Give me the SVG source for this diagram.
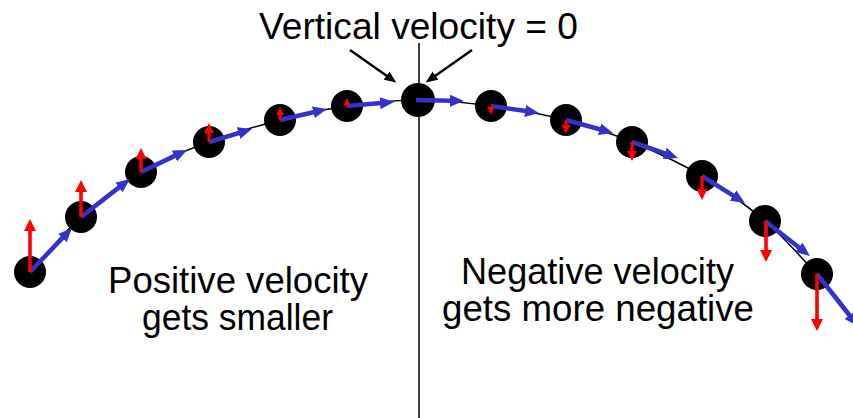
<svg xmlns="http://www.w3.org/2000/svg" width="853" height="418" viewBox="0 0 853 418">
<style>
.txt{font-family:"Liberation Sans",Arial,sans-serif;font-size:36px;fill:#000}
.ball{fill:#000}
.blue{stroke:#3333CC;stroke-width:4.5;fill:none;marker-end:url(#bh)}
.red{fill:#FF0000}
.call{stroke:#000;stroke-width:2.5;fill:none;marker-end:url(#kh)}
</style>
<defs>
<marker id="bh" markerUnits="userSpaceOnUse" markerWidth="15" markerHeight="13" refX="1" refY="6" orient="auto" viewBox="0 0 15 12">
<path d="M0,0 L14,6 L0,12 Z" fill="#3333CC"/>
</marker>
<marker id="kh" markerUnits="userSpaceOnUse" markerWidth="13" markerHeight="11" refX="1" refY="5" orient="auto" viewBox="0 0 13 10">
<path d="M0,0 L12,5 L0,10 Z" fill="#000"/>
</marker>
</defs>
<rect width="853" height="418" fill="#fff"/>
<line id="axis" x1="419" y1="43" x2="419" y2="418" stroke="#000" stroke-width="1.5"/>
<path id="trajectory" d="M30,272 C47,253.7 62.5,233.7 81,217 C99.5,200.3 119.7,184.5 141,172 C162.3,159.5 185.8,150.7 209,142 C232.2,133.3 257,126 280,120 C303,114 324,109.3 347,106 C370,102.7 394,100 418,100 C442,100 466.3,102.7 491,106 C515.7,109.3 542.5,114 566,120 C589.5,126 609.3,132.7 632,142 C654.7,151.3 679.8,162.8 702,176 C724.2,189.2 745.8,204.7 765,221 C784.2,237.3 799.7,256.3 817,274 C830,288 842,303 853,318" fill="none" stroke="#000" stroke-width="1.5"/>
<g id="balls">
<g id="b1"><circle class="ball" cx="30" cy="272" r="16"/></g>
<g id="b2"><circle class="ball" cx="81" cy="217" r="16"/></g>
<g id="b3"><circle class="ball" cx="141" cy="172" r="16"/></g>
<g id="b4"><circle class="ball" cx="209" cy="142" r="16"/></g>
<g id="b5"><circle class="ball" cx="280" cy="120" r="16"/></g>
<g id="b6"><circle class="ball" cx="347" cy="106" r="16"/></g>
<g id="b7"><circle class="ball" cx="418" cy="100" r="17"/></g>
<g id="b8"><circle class="ball" cx="491" cy="106" r="16"/></g>
<g id="b9"><circle class="ball" cx="566" cy="120" r="16"/></g>
<g id="b10"><circle class="ball" cx="632" cy="142" r="16"/></g>
<g id="b11"><circle class="ball" cx="702" cy="176" r="16"/></g>
<g id="b12"><circle class="ball" cx="765" cy="221" r="16"/></g>
<g id="b13"><circle class="ball" cx="817" cy="274" r="16"/></g>
</g>
<g id="connectors">
<line class="blue" x1="30" y1="272" x2="63" y2="237.4"/>
<line class="blue" x1="81" y1="217" x2="119.7" y2="186.9"/>
<line class="blue" x1="141" y1="172" x2="175.3" y2="155.6"/>
<line class="blue" x1="209" y1="142" x2="239.5" y2="132.8"/>
<line class="blue" x1="280" y1="120" x2="314.3" y2="112"/>
<line class="blue" x1="347" y1="106" x2="381" y2="103.1"/>
<line class="blue" x1="416" y1="100" x2="451" y2="100.7"/>
<line class="blue" x1="491" y1="106" x2="526.1" y2="111.1"/>
<line class="blue" x1="566" y1="120" x2="600.5" y2="129.5"/>
<line class="blue" x1="632" y1="142" x2="665.7" y2="153.7"/>
<line class="blue" x1="702" y1="176" x2="734" y2="196.1"/>
<line class="blue" x1="765" y1="221" x2="799.7" y2="248"/>
<line class="blue" x1="817" y1="274" x2="850" y2="316"/>
<g id="red-arrows">
<path class="red" d="M28.2,272 V231 H24 L30,219 L36,231 H31.8 V272 Z"/>
<path class="red" d="M79.2,217 V192 H75 L81,180 L87,192 H82.8 V217 Z"/>
<path class="red" d="M139.3,172 V159 H135.5 L141,148 L146.5,159 H142.7 V172 Z"/>
<path class="red" d="M207.4,142 V133 H204 L209,123 L214,133 H210.6 V142 Z"/>
<path class="red" d="M278.6,120 V115 H276 L280,107 L284,115 H281.4 V120 Z"/>
<path class="red" d="M343.5,106 L347,98 L350.5,106 Z"/>
<path class="red" d="M487,106.5 L495,106.5 L491,115 Z"/>
<path class="red" d="M564.5,120 V125 H561.5 L566,134 L570.5,125 H567.5 V120 Z"/>
<path class="red" d="M630.4,142 V151 H627 L632,161 L637,151 H633.6 V142 Z"/>
<path class="red" d="M700.3,176 V189 H696.5 L702,200 L707.5,189 H703.7 V176 Z"/>
<path class="red" d="M764.2,221 V250 H760 L766,262 L772,250 H767.8 V221 Z"/>
<path class="red" d="M815.2,274 V319 H811 L817,331 L823,319 H818.8 V274 Z"/>
</g>
<line class="call" x1="350" y1="50" x2="387.3" y2="76.2"/>
<line class="call" x1="472" y1="50" x2="434.7" y2="76.2"/>
</g>
<g id="labels">
<text class="txt" x="259" y="39" textLength="319" lengthAdjust="spacingAndGlyphs">Vertical velocity = 0</text>
<text class="txt" x="108" y="293" textLength="260" lengthAdjust="spacingAndGlyphs">Positive velocity</text>
<text class="txt" x="142" y="330" textLength="191" lengthAdjust="spacingAndGlyphs">gets smaller</text>
<text class="txt" x="461" y="284" textLength="273" lengthAdjust="spacingAndGlyphs">Negative velocity</text>
<text class="txt" x="442" y="321" textLength="312" lengthAdjust="spacingAndGlyphs">gets more negative</text>
</g>
</svg>
